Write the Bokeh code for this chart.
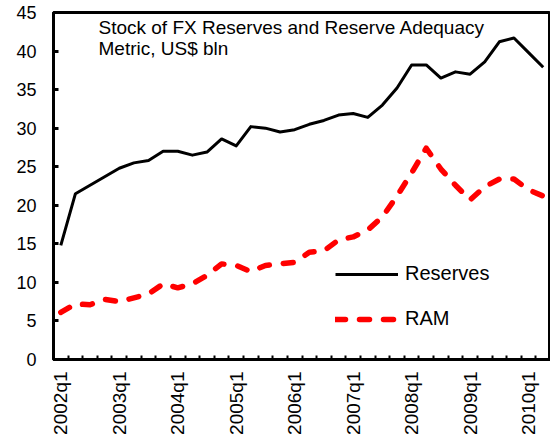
from bokeh.plotting import figure
from bokeh.models import Range1d, FixedTicker, Label, Legend, LegendItem
from bokeh.embed import file_html
from bokeh.resources import INLINE
import math

quarters = [
    "2002q1", "2002q2", "2002q3", "2002q4",
    "2003q1", "2003q2", "2003q3", "2003q4",
    "2004q1", "2004q2", "2004q3", "2004q4",
    "2005q1", "2005q2", "2005q3", "2005q4",
    "2006q1", "2006q2", "2006q3", "2006q4",
    "2007q1", "2007q2", "2007q3", "2007q4",
    "2008q1", "2008q2", "2008q3", "2008q4",
    "2009q1", "2009q2", "2009q3", "2009q4",
    "2010q1", "2010q2",
]
reserves = [14.8, 21.5, 22.6, 23.7, 24.8, 25.5, 25.8, 27.0, 27.0, 26.5, 26.9, 28.6,
            27.7, 30.2, 30.0, 29.5, 29.8, 30.5, 31.0, 31.7, 31.9, 31.4, 33.0, 35.2,
            38.2, 38.2, 36.5, 37.3, 37.0, 38.6, 41.2, 41.7, 39.8, 37.9]
ram = [6.1, 7.2, 7.1, 7.8, 7.5, 8.0, 8.5, 9.8, 9.3, 9.8, 10.9, 12.4,
       12.2, 11.4, 12.2, 12.4, 12.6, 13.9, 14.1, 15.5, 15.9, 16.8, 18.5, 21.2,
       24.2, 27.4, 24.7, 22.6, 20.7, 22.4, 23.4, 23.4, 22.0, 21.2]
y_ticks = [0, 5, 10, 15, 20, 25, 30, 35, 40, 45]
title_lines = ["Stock of FX Reserves and Reserve Adequacy", "Metric, US$ bln"]

FONT = "Liberation Sans"
idx = list(range(len(quarters)))

p = figure(width=550, height=441, output_backend="svg", toolbar_location=None,
           x_range=Range1d(-0.5, len(quarters) - 0.5), y_range=Range1d(0, 45),
           min_border_left=53, min_border_right=0, min_border_top=12, min_border_bottom=82)

p.xgrid.visible = False
p.ygrid.visible = False
p.outline_line_color = "black"
p.outline_line_width = 3
p.background_fill_color = "white"
p.border_fill_color = "white"

r1 = p.line(idx, reserves, line_color="black", line_width=3, line_join="round")
r2 = p.line(idx, ram, line_color="#FF0000", line_width=5.5, line_dash="10 14",
            line_cap="round", line_join="round")

# x axis
label_pos = [i for i in idx if quarters[i].endswith("q1")]
xa = p.xaxis[0]
xa.ticker = FixedTicker(ticks=label_pos, minor_ticks=[i + 0.5 for i in idx])
xa.major_label_overrides = {i: quarters[i] for i in label_pos}
xa.major_label_orientation = math.pi / 2
xa.major_tick_in = 0
xa.major_tick_out = 0
xa.minor_tick_in = 4
xa.minor_tick_out = 0
xa.minor_tick_line_width = 2
xa.minor_tick_line_color = "black"
xa.axis_line_width = 3
xa.axis_line_color = "black"
xa.major_label_standoff = 12
xa.major_label_text_font = FONT
xa.major_label_text_font_size = "19px"
xa.major_label_text_color = "black"

ya = p.yaxis[0]
ya.ticker = FixedTicker(ticks=y_ticks, minor_ticks=[])
ya.major_tick_in = 5
ya.major_tick_out = 0
ya.major_tick_line_width = 3
ya.axis_line_width = 3
ya.axis_line_color = "black"
ya.major_label_standoff = 17
ya.major_label_text_font = FONT
ya.major_label_text_font_size = "18px"
ya.major_label_text_color = "black"

for k, t in enumerate(title_lines):
    p.add_layout(Label(x=45, y=332 - 21 * k, x_units="screen", y_units="screen", text=t,
                       text_font=FONT, text_font_size="19px", text_color="black",
                       text_baseline="alphabetic"))

legend = Legend(items=[LegendItem(label="Reserves", renderers=[r1]),
                       LegendItem(label="RAM", renderers=[r2])],
                location=(282, 29), orientation="vertical",
                glyph_width=63, glyph_height=20, label_height=20, spacing=22,
                label_standoff=7, padding=0, margin=0,
                border_line_color=None, background_fill_alpha=0,
                label_text_font=FONT, label_text_font_size="20px", label_text_color="black")
p.add_layout(legend, "center")

open("out.html", "w").write(file_html(p, INLINE))
